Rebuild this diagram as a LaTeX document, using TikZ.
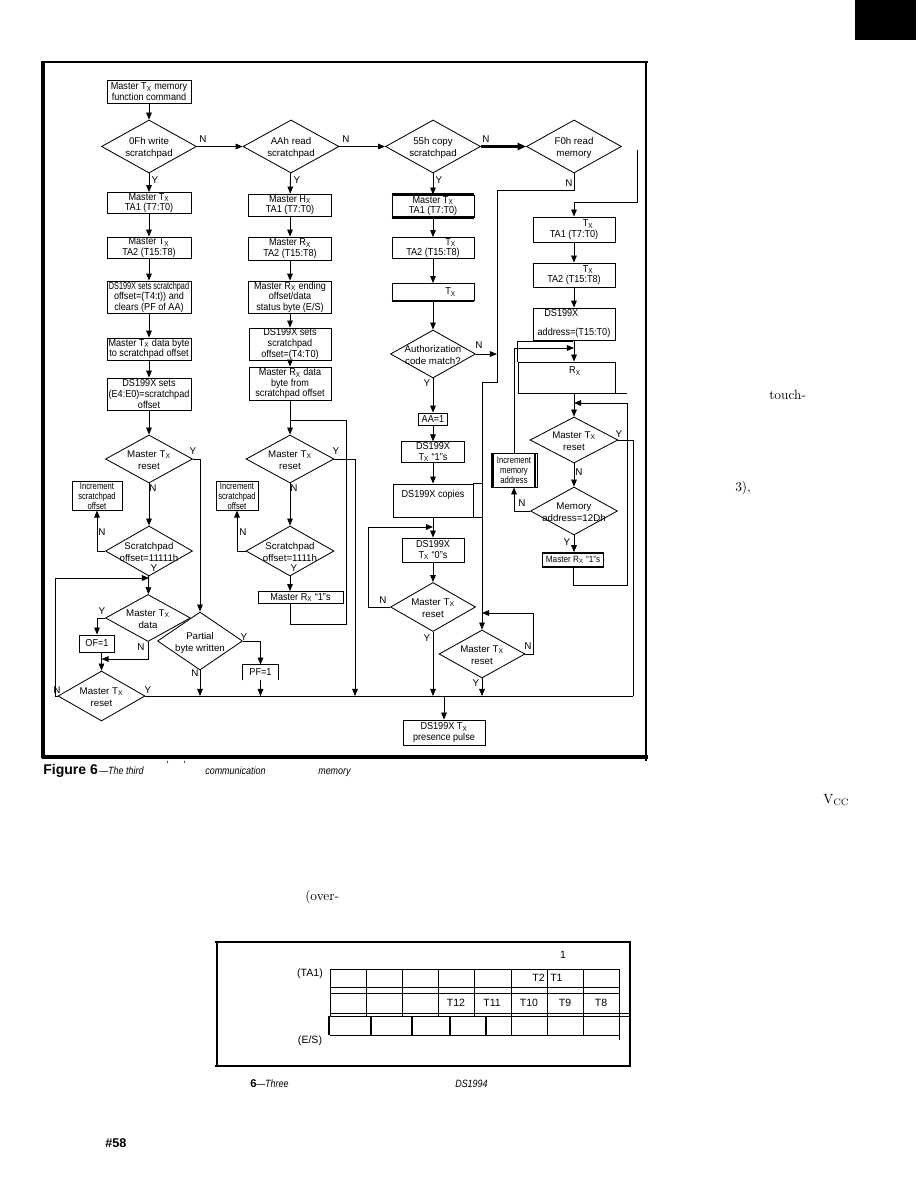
\documentclass[tikz,border=0pt]{standalone}
\usepackage{fontspec}
\usepackage{graphicx}
\setsansfont{Liberation Sans}
\newfontfamily\boxfont[FakeStretch=0.9]{Liberation Sans}
\newfontfamily\narrowfont[FakeStretch=0.8]{Liberation Sans}
\newfontfamily\capfont[FakeStretch=0.85]{Liberation Sans}
\usetikzlibrary{arrows.meta,shapes.geometric}

\newcommand{\dtxt}[1]{\smash{\raisebox{-3pt}{\makebox[0pt]{\begin{tabular}{@{}c@{}}#1\end{tabular}}}}}
\newcommand{\Tx}{T\textsubscript{X}}
\newcommand{\Rx}{R\textsubscript{X}}

\begin{document}
\begin{tikzpicture}[x=0.025cm, y=-0.025cm,
    flowbox/.style={draw, line width=0.6pt, inner sep=0.5pt, align=center, font=\boxfont\fontsize{7.2}{7.5}\selectfont},
    thinbox/.style={flowbox, font=\narrowfont\fontsize{6.8}{7.2}\selectfont},
    decide/.style={draw, diamond, line width=0.6pt, inner sep=0pt, font=\sffamily\fontsize{6.9}{8.4}\selectfont},
    sz/.style 2 args={minimum width={#1*0.025cm}, minimum height={#2*0.025cm}},
    yn/.style={font=\sffamily\fontsize{7}{8}\selectfont, inner sep=0pt},
    captxt/.style={font=\capfont\itshape\fontsize{7.5}{9}\selectfont, inner sep=0pt, anchor=base west},
    pagetxt/.style={font=\rmfamily\fontsize{9.5}{11}\selectfont, inner sep=0pt, anchor=base west},
    gridtxt/.style={font=\sffamily\fontsize{7.5}{9}\selectfont, inner sep=0pt},
    link/.style={-{Triangle[length=5pt,width=4pt]}, line width=0.6pt},
    wire/.style={line width=0.6pt}
]
\useasboundingbox (0,0) rectangle (921,1190);

% page tab
\fill (855,0) rectangle (916,40);

% figure frame
\draw[line width=2.2pt] (43,61) -- (43,758);
\draw[line width=1.2pt] (42,62) -- (648,62);
\draw[line width=2pt] (646,61) -- (646,761);
\draw[line width=2.4pt] (42,757) -- (648,757);

% column 1: write scratchpad
\node[flowbox, sz={84}{23}] (cmd) at (149,91.5) {Master \Tx\ memory\\function command};
\node[decide, sz={95}{53}] (wrsp) at (149,146.5) {\dtxt{0Fh write\\scratchpad}};
\node[flowbox, sz={84}{20}] (ta1a) at (149,203) {Master \Tx\\TA1 (T7:T0)};
\node[flowbox, sz={84}{21}] (ta2a) at (149,247.5) {Master \Tx\\TA2 (T15:T8)};
\node[flowbox, sz={84}{28}] (offa) at (149,297) {\scalebox{0.8}[1]{DS199X sets scratchpad}\\offset=(T4:t)) and\\clears (PF of AA)};
\node[flowbox, sz={84}{22}] (bytea) at (149,349) {Master \Tx\ data byte\\to scratchpad offset};
\node[flowbox, sz={84}{32}] (esa) at (149,394) {DS199X sets\\(E4:E0)=scratchpad\\offset};
\node[decide, sz={87}{48}] (rsta) at (149,459) {\dtxt{Master \Tx\\reset}};
\node[thinbox, sz={50}{28}] (inca) at (97,496) {Increment\\scratchpad\\offset};
\node[decide, sz={87}{50}] (spa) at (149,551) {\dtxt{Scratchpad\\offset=11111h}};
\node[decide, sz={85}{47}] (datx) at (148,618) {\dtxt{Master \Tx\\data}};
\node[flowbox, sz={35}{17}] (of) at (97,643.5) {OF=1};
\node[decide, sz={87}{50}] (rstb) at (101.5,696) {\dtxt{Master \Tx\\reset}};
\node[decide, sz={85}{58}] (part) at (200,641) {\dtxt{Partial\\byte written}};
\node[flowbox, draw=none, sz={35}{15}] (pf) at (260.5,672.5) {PF=1};

% column 2: read scratchpad
\node[decide, sz={96}{53}] (rdsp) at (291,146.5) {\dtxt{AAh read\\scratchpad}};
\node[flowbox, sz={83}{22}] (ta1b) at (290,205) {Master H\textsubscript{X}\\TA1 (T7:T0)};
\node[flowbox, sz={83}{23}] (ta2b) at (290,248.5) {Master \Rx\\TA2 (T15:T8)};
\node[flowbox, sz={83}{28}] (endb) at (290,297) {Master \Rx\ ending\\offset/data\\status byte (E/S)};
\node[flowbox, sz={82}{32}] (offb) at (290,344) {DS199X sets\\scratchpad\\offset=(T4:T0)};
\node[flowbox, sz={82}{33}] (rdb) at (290,383.5) {Master \Rx\ data\\byte from\\scratchpad offset};
\node[decide, sz={88}{48}] (rstc) at (290,459) {\dtxt{Master \Tx\\reset}};
\node[thinbox, sz={42}{28}] (incb) at (237,496) {Increment\\scratchpad\\offset};
\node[decide, sz={88}{50}] (spb) at (290,551) {\dtxt{Scratchpad\\offset=1111h}};
\node[flowbox, sz={85}{12}] (onesb) at (300.5,597.5) {Master \Rx\ “1”s};

% column 3: copy scratchpad
\node[decide, sz={95}{53}] (cpsp) at (433,146.5) {\dtxt{55h copy\\scratchpad}};
\node[flowbox, sz={82}{22}] (ta1c) at (433,206) {Master \Tx\\TA1 (T7:T0)};
\node[flowbox, sz={82}{20}] (ta2c) at (433,248) {\hspace*{25pt}\Tx\\TA2 (T15:T8)};
\node[flowbox, sz={82}{17}] (txc) at (433,292) {\hspace*{25pt}\Tx};
\node[decide, sz={85}{48}] (auth) at (433,354) {\dtxt{Authorization\\code match?}};
\node[flowbox, sz={29}{12}] (aa) at (433,419) {AA=1};
\node[flowbox, sz={63}{20}] (onesc) at (433,452) {DS199X\\\Tx\ “1”s};
\node[flowbox, sz={80}{33}, text depth=10pt] (copies) at (433,500.5) {DS199X copies};
\node[flowbox, sz={62}{24}] (zeros) at (433,550) {DS199X\\\Tx\ “0”s};
\node[decide, sz={85}{49}] (rstd) at (433,607) {\dtxt{Master \Tx\\reset}};
\node[decide, sz={86}{48}] (rste) at (482,654) {\dtxt{Master \Tx\\reset}};
\node[flowbox, sz={82}{25}] (pres) at (444,732.5) {DS199X \Tx\\presence pulse};

% column 4: read memory
\node[decide, sz={95}{53}] (rdmem) at (574,146.5) {\dtxt{F0h read\\memory}};
\node[flowbox, sz={82}{25}] (ta1d) at (574,229.5) {\hspace*{20pt}\Tx\\TA1 (T7:T0)};
\node[flowbox, sz={82}{24}] (ta2d) at (574,275) {\hspace*{20pt}\Tx\\TA2 (T15:T8)};
\node[flowbox, sz={82}{32}] (addr) at (574,324) {DS199X\hspace*{18pt}\\[6pt]address=(T15:T0)};
\node[flowbox, sz={97}{31}, text depth=10pt] (rxd) at (566.5,377.5) {\hspace*{12pt}\Rx};
\node[decide, sz={88}{46}] (rstf) at (574,440) {\dtxt{Master \Tx\\reset}};
\node[thinbox, sz={46}{34}] (incm) at (514,470) {Increment\\memory\\address};
\node[decide, sz={87}{48}] (mema) at (574,511) {\dtxt{Memory\\address=12Dh}};
\node[flowbox, sz={61}{14}, line width=1.2pt, font=\boxfont\fontsize{6.5}{7}\selectfont] (onesd) at (573,560) {Master \Rx\ “1”s};

% Y / N labels
\node[yn] (wrY) at (155,180) {Y};
\node[yn] (wrN) at (203,139) {N};
\node[yn] (rdY) at (297,180) {Y};
\node[yn] (rdN) at (346,139) {N};
\node[yn] (cpY) at (439,180) {Y};
\node[yn] (cpN) at (486,139) {N};
\node[yn] (memN) at (569,183) {N};
\node[yn] (rsaY) at (193,451) {Y};
\node[yn] (rsaN) at (153,488) {N};
\node[yn] (spaN) at (102,532) {N};
\node[yn] (spaY) at (154,568) {Y};
\node[yn] (datY) at (102,611) {Y};
\node[yn] (datN) at (141,647) {N};
\node[yn] (rsbN) at (57,690) {N};
\node[yn] (rsbY) at (148,690) {Y};
\node[yn] (partY) at (244,637) {Y};
\node[yn] (partN) at (195,673) {N};
\node[yn] (rscY) at (336,451) {Y};
\node[yn] (rscN) at (294,488) {N};
\node[yn] (spbN) at (243,532) {N};
\node[yn] (spbY) at (294,568) {Y};
\node[yn] (authN) at (479,345) {N};
\node[yn] (authY) at (427,383) {Y};
\node[yn] (rsdN) at (383,600) {N};
\node[yn] (rsdY) at (427,638) {Y};
\node[yn] (rseN) at (528,646) {N};
\node[yn] (rseY) at (476,683) {Y};
\node[yn] (rsfY) at (619,434) {Y};
\node[yn] (rsfN) at (579,472) {N};
\node[yn] (memaN) at (522,503) {N};
\node[yn] (memaY) at (567,542) {Y};

% free ends of the wires
\coordinate (busr) at (633,696);
\coordinate (lpa) at (55,578);
\coordinate (ofm) at (101.5,659);
\coordinate (lpb) at (346,420);
\coordinate (ysb) at (355,459);
\coordinate (nfa) at (497,190);
\coordinate (nfb) at (482,382);
\coordinate (lpd) at (368,527);
\coordinate (lpe) at (533,613);
\coordinate (fr) at (637,150);
\coordinate (frj) at (574,202);
\coordinate (lpm) at (514,348);
\coordinate (lpf) at (627,585);
\coordinate (lpg) at (627,403);

% command decoding
\draw[link] (cmd) -- (wrsp);
\draw[link] (wrsp) -- (rdsp);
\draw[link] (rdsp) -- (cpsp);
\draw[-{Triangle[length=6pt,width=5pt]}, line width=1.6pt] (cpsp) -- (rdmem);

% write scratchpad
\draw[link] (wrsp) -- (ta1a);
\draw[link] (ta1a) -- (ta2a);
\draw[link] (ta2a) -- (offa);
\draw[link] (offa) -- (bytea);
\draw[link] (bytea) -- (esa);
\draw[link] (esa) -- (rsta);
\draw[link] (rsta) -- (spa);
\draw[link] (spa.west) -| (inca.south);
\draw[link] (spa) -- (datx);
\draw[link] (rstb.west) -| (lpa) -- (lpa -| spa.south);
\draw[link] (rsta.east) -| (part.north);
\draw[link] (datx.west) -| (of.north);
\draw[link] (datx.south) |- (ofm);
\draw[link] (of.south -| rstb.north) -- (rstb.north);
\draw[link] (part.east) -| (pf.north);
\draw[wire] (pf.south west) |- (pf.north east) -- (pf.south east);
\draw[link] (part.south) -- (part.south |- busr);
\draw[link] (pf.south) -- (pf.south |- busr);
\draw[wire] (rstb.east) -- (busr);

% read scratchpad
\draw[link] (rdsp) -- (ta1b);
\draw[link] (ta1b) -- (ta2b);
\draw[link] (ta2b) -- (endb);
\draw[link] (endb) -- (offb);
\draw[link] (offb) -- (rdb);
\draw[link] (rdb) -- (rstc);
\draw[link] (rstc) -- (spb);
\draw[link] (spb.west) -| (incb.south);
\draw[link] (spb.south) -- (spb.south |- onesb.north);
\draw[wire] (spb.south |- onesb.south) -- ++(0,20) -| (lpb) -- (lpb -| rstc.north);
\draw[link] (rstc.east) -| (ysb |- busr);

% copy scratchpad
\draw[link] (cpsp) -- (ta1c);
\draw[link] (ta1c) -- (ta2c);
\draw[link] (ta2c) -- (txc);
\draw[link] (txc) -- (auth);
\draw[link] (auth) -- (aa);
\draw[link] (aa) -- (onesc);
\draw[link] (onesc) -- (copies);
\draw[link] (copies) -- (zeros);
\draw[link] (zeros) -- (rstd);
\draw[link] (auth.east) -- (auth.east -| nfa);
\draw[link] (rdmem.south) |- (nfa) |- (nfb) -- (nfb |- rste.north);
\draw[link] (rstd.west) -| (lpd) -- (lpd -| zeros.north);
\draw[link] (rste.east) -| (lpe) -- (lpe -| rste.north);
\draw[link] (rstd.south) -- (rstd.south |- busr);
\draw[link] (rste.south) -- (rste.south |- busr);
\draw[link] (pres.north |- busr) -- (pres.north);
\draw[line width=1.6pt] (ta1c.north west) -- (ta1c.north east);
\draw[line width=1.6pt] (ta1c.south west) -- (ta1c.south east);
\draw[line width=1.2pt] (txc.south west) -- (txc.south east);
\draw[wire] (copies.north east) -- (copies.north east -| nfb);
\draw[wire] (copies.south east) -- (copies.south east -| nfb);

% read memory
\draw[link] (fr) |- (frj) -- (ta1d.north);
\draw[link] (ta1d) -- (ta2d);
\draw[link] (ta2d) -- (addr);
\draw[link] (addr.south) -- (addr.south |- rxd.north);
\draw[link] (rxd.south -| rstf.north) -- (rstf.north);
\draw[link] (incm.north) |- (lpm -| addr.south);
\draw[link] (rstf) -- (mema);
\draw[link] (mema.west) -| (incm.south);
\draw[link] (mema.south) -- (mema.south |- onesd.north);
\draw[link] (onesd.south) |- (lpf) -- (lpg) -- (lpg -| rstf.north);
\draw[wire] (rstf.east) -| (busr);
\draw[wire] (rxd.north west) -- ++(0,-20) -- ++(55,0);
\draw[wire] (rxd.south east) -- (rxd.south east -| lpg);
\draw[line width=1.1pt] ([xshift=1.6pt]incm.north west) -- ([xshift=1.6pt]incm.south west);
\draw[line width=1.1pt] ([xshift=-1.6pt]incm.north east) -- ([xshift=-1.6pt]incm.south east);

% caption of the flowchart
\node[captxt, font=\sffamily\bfseries\fontsize{10}{11}\selectfont] (figno) at (43,774) {Figure 6};
\node[captxt] (figa) at (99,774) {—The third};
\node[captxt] (figtick1) at (166,768) {'};
\node[captxt] (figtick2) at (183,768) {'};
\node[captxt] (figb) at (205,774) {communication};
\node[captxt] (figc) at (318,774) {memory};

% running text
\node[pagetxt] (txtouch) at (769,399) {touch-};
\node[pagetxt] (txthree) at (735,491) {3),};
\node[pagetxt] (txvcc) at (823,803) {V\textsubscript{CC}};
\node[pagetxt] (txover) at (305,900) {(over-};

% register layout
\draw[line width=2pt] (215,942) -- (631,942);
\draw[line width=2pt] (215,1066) -- (631,1066);
\draw[line width=1.2pt] (217,941) -- (217,1067);
\draw[line width=1.2pt] (630,941) -- (630,1067);
\foreach \gy in {969,987,993,1035}
  \draw[wire] (330,\gy) -- (619,\gy);
\foreach \gy in {1013,1016}
  \draw[wire] (330,\gy) -- (630,\gy);
\foreach \gx in {330,366,402,438,474,511,547,583,619}
  \draw[wire] (\gx,969) -- (\gx,1016);
\foreach \gx in {329,371,412,450,486}
  \draw[line width=1pt] (\gx,1016) -- (\gx,1035);
\foreach \gx in {511,547,583}
  \draw[wire] (\gx,1016) -- (\gx,1035);
\draw[wire] (619,1016) -- (619,1040);
\node[gridtxt] (bitone) at (563,955) {1};
\node[gridtxt] (lblta) at (310,974) {(TA1)};
\node[gridtxt] (lbles) at (310,1041) {(E/S)};
\node[gridtxt, anchor=east] (bt2) at (545,978) {T2};
\node[gridtxt, anchor=west] (bt1) at (550,978) {T1};
\node[gridtxt] (bt12) at (456,1003) {T12};
\node[gridtxt] (bt11) at (492,1003) {T11};
\node[gridtxt] (bt10) at (529,1003) {T10};
\node[gridtxt] (bt9) at (565,1003) {T9};
\node[gridtxt] (bt8) at (601,1003) {T8};
\node[captxt, font=\sffamily\bfseries\fontsize{8}{9}\selectfont] (tabno) at (250,1087) {6};
\node[captxt] (taba) at (256,1087) {—Three};
\node[captxt] (tabb) at (455,1087) {DS1994};
\node[captxt, font=\sffamily\bfseries\fontsize{9}{10}\selectfont] (pageno) at (105,1147) {\#58};
\end{tikzpicture}
\end{document}
